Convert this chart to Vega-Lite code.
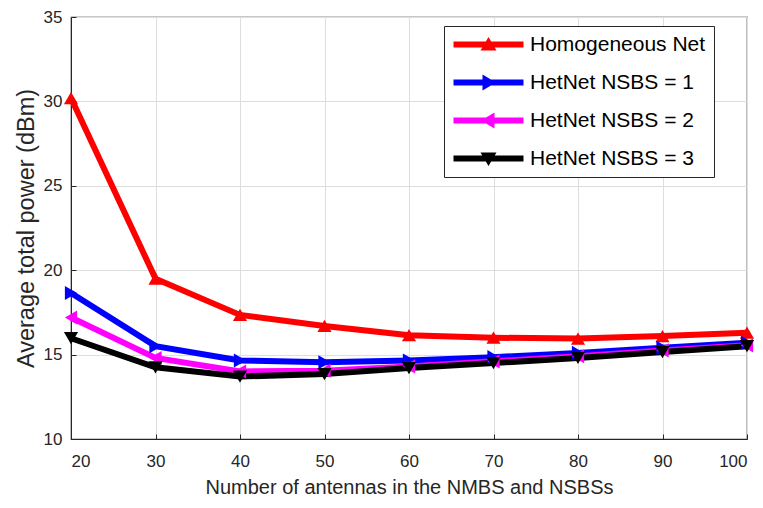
{
  "$schema": "https://vega.github.io/schema/vega-lite/v6.json",
  "width": 676,
  "height": 422,
  "padding": {"left": 71, "top": 17, "right": 16, "bottom": 69},
  "autosize": {"type": "none"},
  "background": "white",
  "config": {
    "font": "Liberation Sans",
    "view": {"stroke": "#262626", "strokeWidth": 1.2},
    "axis": {
      "labelFont": "Liberation Sans",
      "titleFont": "Liberation Sans",
      "labelFontSize": 17,
      "titleFontSize": 20,
      "titleFontWeight": "normal",
      "labelColor": "#262626",
      "titleColor": "#262626",
      "domainColor": "#262626",
      "tickColor": "#262626",
      "gridColor": "#dedede",
      "gridWidth": 1
    },
    "legend": {
      "labelFont": "Liberation Sans",
      "labelFontSize": 21,
      "labelColor": "#000000",
      "labelLimit": 400
    }
  },
  "data": {
    "values": [
      {"n": 20, "p": 30.2, "s": "Homogeneous Net"},
      {"n": 30, "p": 19.5, "s": "Homogeneous Net"},
      {"n": 40, "p": 17.35, "s": "Homogeneous Net"},
      {"n": 50, "p": 16.7, "s": "Homogeneous Net"},
      {"n": 60, "p": 16.15, "s": "Homogeneous Net"},
      {"n": 70, "p": 16.0, "s": "Homogeneous Net"},
      {"n": 80, "p": 15.95, "s": "Homogeneous Net"},
      {"n": 90, "p": 16.1, "s": "Homogeneous Net"},
      {"n": 100, "p": 16.3, "s": "Homogeneous Net"},
      {"n": 20, "p": 18.65, "s": "HetNet NSBS = 1"},
      {"n": 30, "p": 15.5, "s": "HetNet NSBS = 1"},
      {"n": 40, "p": 14.65, "s": "HetNet NSBS = 1"},
      {"n": 50, "p": 14.55, "s": "HetNet NSBS = 1"},
      {"n": 60, "p": 14.65, "s": "HetNet NSBS = 1"},
      {"n": 70, "p": 14.85, "s": "HetNet NSBS = 1"},
      {"n": 80, "p": 15.1, "s": "HetNet NSBS = 1"},
      {"n": 90, "p": 15.4, "s": "HetNet NSBS = 1"},
      {"n": 100, "p": 15.7, "s": "HetNet NSBS = 1"},
      {"n": 20, "p": 17.2, "s": "HetNet NSBS = 2"},
      {"n": 30, "p": 14.8, "s": "HetNet NSBS = 2"},
      {"n": 40, "p": 14.0, "s": "HetNet NSBS = 2"},
      {"n": 50, "p": 14.05, "s": "HetNet NSBS = 2"},
      {"n": 60, "p": 14.3, "s": "HetNet NSBS = 2"},
      {"n": 70, "p": 14.6, "s": "HetNet NSBS = 2"},
      {"n": 80, "p": 14.9, "s": "HetNet NSBS = 2"},
      {"n": 90, "p": 15.25, "s": "HetNet NSBS = 2"},
      {"n": 100, "p": 15.55, "s": "HetNet NSBS = 2"},
      {"n": 20, "p": 15.97, "s": "HetNet NSBS = 3"},
      {"n": 30, "p": 14.25, "s": "HetNet NSBS = 3"},
      {"n": 40, "p": 13.7, "s": "HetNet NSBS = 3"},
      {"n": 50, "p": 13.85, "s": "HetNet NSBS = 3"},
      {"n": 60, "p": 14.2, "s": "HetNet NSBS = 3"},
      {"n": 70, "p": 14.5, "s": "HetNet NSBS = 3"},
      {"n": 80, "p": 14.8, "s": "HetNet NSBS = 3"},
      {"n": 90, "p": 15.15, "s": "HetNet NSBS = 3"},
      {"n": 100, "p": 15.5, "s": "HetNet NSBS = 3"}
    ]
  },
  "encoding": {
    "x": {
      "field": "n", "type": "quantitative",
      "scale": {"domain": [20, 100], "nice": false, "zero": false},
      "axis": {"values": [20, 30, 40, 50, 60, 70, 80, 90, 100], "title": "Number of antennas in the NMBS and NSBSs", "tickSize": -5, "labelPadding": 19, "titlePadding": 8}
    },
    "y": {
      "field": "p", "type": "quantitative",
      "scale": {"domain": [10, 35], "nice": false, "zero": false},
      "axis": {"values": [10, 15, 20, 25, 30, 35], "title": "Average total power (dBm)", "titleFontSize": 23.5, "tickSize": -5, "labelPadding": 14, "titlePadding": 5}
    },
    "color": {
      "field": "s", "type": "nominal",
      "scale": {
        "domain": ["Homogeneous Net", "HetNet NSBS = 1", "HetNet NSBS = 2", "HetNet NSBS = 3"],
        "range": ["#ff0000", "#0000ff", "#ff00ff", "#000000"]
      },
      "legend": null
    }
  },
  "layer": [
    {
      "mark": {"type": "line", "strokeWidth": 6},
      "encoding": {
        "order": {"field": "n", "type": "quantitative"},
        "color": {
          "field": "s", "type": "nominal",
          "scale": {
            "domain": ["Homogeneous Net", "HetNet NSBS = 1", "HetNet NSBS = 2", "HetNet NSBS = 3"],
            "range": ["#ff0000", "#0000ff", "#ff00ff", "#000000"]
          },
          "legend": {
            "title": null,
            "orient": "none",
            "legendX": 373,
            "legendY": 9,
            "fillColor": "white",
            "strokeColor": "#262626",
            "padding": 8,
            "symbolSize": 400,
            "symbolStrokeWidth": 0,
            "symbolOffset": 26,
            "rowPadding": 16,
            "labelOffset": 31,
            "encode": {
              "symbols": {
                "update": {
                  "shape": {"signal": "datum.value === 'Homogeneous Net' ? 'M-3.5,-0.3H3.5V0.3H-3.5Z M0,-0.75L0.8,0.6L-0.8,0.6Z' : datum.value === 'HetNet NSBS = 1' ? 'M-3.5,-0.3H3.5V0.3H-3.5Z M0.75,0L-0.6,0.8L-0.6,-0.8Z' : datum.value === 'HetNet NSBS = 2' ? 'M-3.5,-0.3H3.5V0.3H-3.5Z M-0.75,0L0.6,-0.8L0.6,0.8Z' : 'M-3.5,-0.3H3.5V0.3H-3.5Z M0,0.75L-0.8,-0.6L0.8,-0.6Z'"},
                  "fill": {"scale": "color", "field": "value"},
                  "fillOpacity": {"value": 1},
                  "strokeWidth": {"value": 0},
                  "opacity": {"value": 1}
                }
              }
            }
          }
        }
      }
    },
    {
      "transform": [{"filter": {"field": "s", "equal": "Homogeneous Net"}}],
      "mark": {"type": "point", "filled": true, "size": 200, "opacity": 1, "shape": "triangle-up"}
    },
    {
      "transform": [{"filter": {"field": "s", "equal": "HetNet NSBS = 1"}}],
      "mark": {"type": "point", "filled": true, "size": 200, "opacity": 1, "shape": "triangle-right"}
    },
    {
      "transform": [{"filter": {"field": "s", "equal": "HetNet NSBS = 2"}}],
      "mark": {"type": "point", "filled": true, "size": 200, "opacity": 1, "shape": "triangle-left"}
    },
    {
      "transform": [{"filter": {"field": "s", "equal": "HetNet NSBS = 3"}}],
      "mark": {"type": "point", "filled": true, "size": 200, "opacity": 1, "shape": "triangle-down"}
    }
  ]
}
